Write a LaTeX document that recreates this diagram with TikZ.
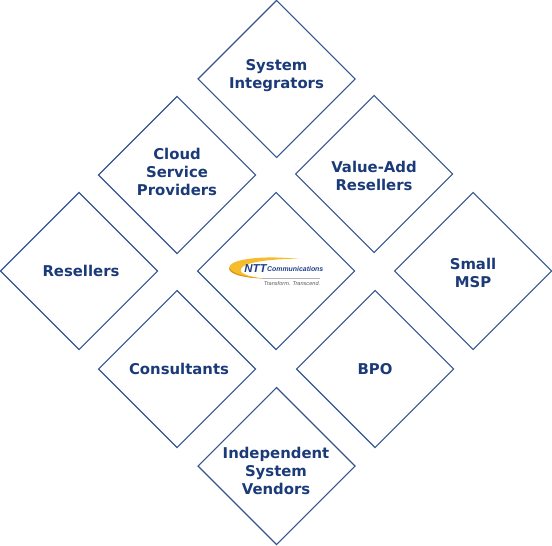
\documentclass[tikz,border=0pt]{standalone}
\usepackage{fontspec}
\setmainfont{DejaVu Sans}
\newfontfamily\logofont{Liberation Sans}
\definecolor{navy}{HTML}{1B3A78}
\definecolor{edgeblue}{HTML}{34558E}
\definecolor{logoblue}{HTML}{1F3F86}
\definecolor{gold}{HTML}{F5BC2E}
\definecolor{golddark}{HTML}{D98F10}
\tikzset{
  x=0.75pt,y=-0.75pt,
  cell/.style={draw=none,align=center,text=navy,font=\fontsize{11.15pt}{13.5pt}\selectfont\bfseries,inner sep=0pt},
  rim/.style={draw=edgeblue,line width=0.8pt,line join=miter}
}
\newcommand{\rhomb}[2]{\draw[rim] (#1-78.5,#2) -- (#1,#2-78.5) -- (#1+78.5,#2) -- (#1,#2+78.5) -- cycle;}
\begin{document}
\begin{tikzpicture}
\useasboundingbox (0,0) rectangle (552,545);
\rhomb{276.5}{79}
\rhomb{177}{175}
\rhomb{374}{174}
\rhomb{276}{271}
\rhomb{79}{271}
\rhomb{473}{271}
\rhomb{177}{369}
\rhomb{375}{369}
\rhomb{276.5}{466}
\node[cell] (si) at (276.5,76) {System\\Integrators};
\node[cell] (csp) at (177,172) {Cloud\\Service\\Providers};
\node[cell] (var) at (374,176) {Value-Add\\Resellers};
\node[cell] (res) at (81,271) {Resellers};
\node[cell] (msp) at (473,273) {Small\\MSP};
\node[cell] (con) at (179,369) {Consultants};
\node[cell] (bpo) at (375,369) {BPO};
\node[cell] (isv) at (276,471) {Independent\\System\\Vendors};
% logo
\fill[gold] (300,259) .. controls (262,255) and (229,259) .. (229,268)
  .. controls (229,274) and (243,278) .. (265,278.5)
  .. controls (248,277) and (238,273) .. (241,268.5)
  .. controls (245,262) and (272,258.5) .. (300,259) -- cycle;
\fill[golddark] (229,268) .. controls (229,274) and (243,278) .. (265,278.5)
  .. controls (248,277.5) and (233,274.5) .. (229,268) -- cycle;
\node[inner sep=0pt,anchor=west,text=logoblue,font=\logofont\fontsize{8.6pt}{10pt}\selectfont\bfseries\itshape] (ntt) at (244,269) {NTT};
\node[inner sep=0pt,anchor=west,text=logoblue,font=\logofont\fontsize{5.2pt}{8pt}\selectfont\bfseries\itshape] (com) at (ntt.east) {Communications};
\draw[gray!60,line width=0.4pt] (262,278) -- (320,278);
\node[inner sep=0pt,text=black!65,font=\logofont\fontsize{4.2pt}{6pt}\selectfont\itshape] (tag) at (292,283.5) {Transform. Transcend.};
\end{tikzpicture}
\end{document}
